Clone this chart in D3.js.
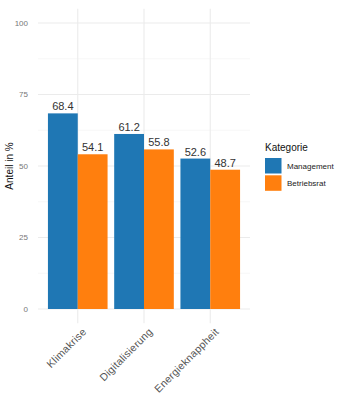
<!DOCTYPE html>
<html><head><meta charset="utf-8">
<script src="https://cdn.jsdelivr.net/npm/d3@7"></script>
<style>body{margin:0;background:#fff;}svg{display:block;font-family:"Liberation Sans",Arial,sans-serif;}</style>
</head><body>
<script>
const categories = ["Klimakrise", "Digitalisierung", "Energieknappheit"];
const seriesNames = ["Management", "Betriebsrat"];
const management = [68.4, 61.2, 52.6];
const betriebsrat = [54.1, 55.8, 48.7];
const yTicks = [0, 25, 50, 75, 100];
const yMinor = [12.5, 37.5, 62.5, 87.5];
const colors = ["#1f77b4", "#ff7f0e"];

const W = 337, H = 396;
const svg = d3.select("body").append("svg").attr("width", W).attr("height", H);

const panel = {left: 38, right: 250, top: 8.7, bottom: 323.3};
const y = d3.scaleLinear().domain([-5, 105]).range([panel.bottom, panel.top]);
// discrete x with 0.6 expansion each side
const step = (panel.right - panel.left) / (categories.length - 1 + 1.2);
const x = d3.scalePoint().domain(categories).range([panel.left + 0.6 * step, panel.right - 0.6 * step]);
const groupW = 0.9 * step;
const xs = d3.scaleBand().domain(seriesNames).range([-groupW / 2, groupW / 2]).padding(0);

const g = svg.append("g");
// grid
g.selectAll(".minor").data(yMinor).join("line")
  .attr("x1", panel.left).attr("x2", panel.right)
  .attr("y1", d => y(d)).attr("y2", d => y(d))
  .attr("stroke", "#f2f2f2").attr("stroke-width", 0.6);
g.selectAll(".major").data(yTicks).join("line")
  .attr("x1", panel.left).attr("x2", panel.right)
  .attr("y1", d => y(d)).attr("y2", d => y(d))
  .attr("stroke", "#ebebeb").attr("stroke-width", 1.1);
g.selectAll(".vmajor").data(categories).join("line")
  .attr("x1", d => x(d)).attr("x2", d => x(d))
  .attr("y1", panel.top).attr("y2", panel.bottom)
  .attr("stroke", "#ebebeb").attr("stroke-width", 1.1);

// y axis labels
g.selectAll(".ytl").data(yTicks).join("text")
  .attr("x", 28).attr("y", d => y(d)).attr("dy", "0.35em")
  .attr("text-anchor", "end").attr("font-size", 8).attr("fill", "#777")
  .text(d => d);

// bars
const data = [];
categories.forEach((c, i) => {
  data.push({cat: c, s: seriesNames[0], v: management[i]});
  data.push({cat: c, s: seriesNames[1], v: betriebsrat[i]});
});
const color = d3.scaleOrdinal().domain(seriesNames).range(colors);
g.selectAll(".bar").data(data).join("rect")
  .attr("x", d => x(d.cat) + xs(d.s))
  .attr("width", xs.bandwidth())
  .attr("y", d => y(d.v))
  .attr("height", d => y(0) - y(d.v))
  .attr("fill", d => color(d.s));
g.selectAll(".vl").data(data).join("text")
  .attr("x", d => x(d.cat) + xs(d.s) + xs.bandwidth() / 2)
  .attr("y", d => y(d.v) - 3)
  .attr("text-anchor", "middle").attr("font-size", 11).attr("fill", "#333")
  .text(d => d.v.toFixed(1));

// x axis labels rotated 45
g.selectAll(".xtl").data(categories).join("text")
  .attr("transform", d => `translate(${x(d) + 4},${panel.bottom + 4}) rotate(-45)`)
  .attr("text-anchor", "end").attr("dy", "0.7em")
  .attr("font-size", 10.5).attr("letter-spacing", 0.25).attr("fill", "#555")
  .text(d => d);

// y axis title
svg.append("text")
  .attr("transform", `translate(13,${(panel.top + panel.bottom) / 2}) rotate(-90)`)
  .attr("text-anchor", "middle").attr("font-size", 10).attr("fill", "#111")
  .text("Anteil in %");

// legend
const lg = svg.append("g").attr("transform", "translate(265,0)");
lg.append("text").attr("x", 0).attr("y", 151).attr("font-size", 10).attr("fill", "#111").text("Kategorie");
seriesNames.forEach((s, i) => {
  lg.append("rect").attr("x", 0).attr("y", 158 + i * 17.3).attr("width", 16.5).attr("height", 15.5).attr("fill", colors[i]);
  lg.append("text").attr("x", 22).attr("y", 158 + i * 17.3 + 8).attr("dy", "0.35em")
    .attr("font-size", 8).attr("fill", "#222").text(s);
});
</script>
</body></html>
